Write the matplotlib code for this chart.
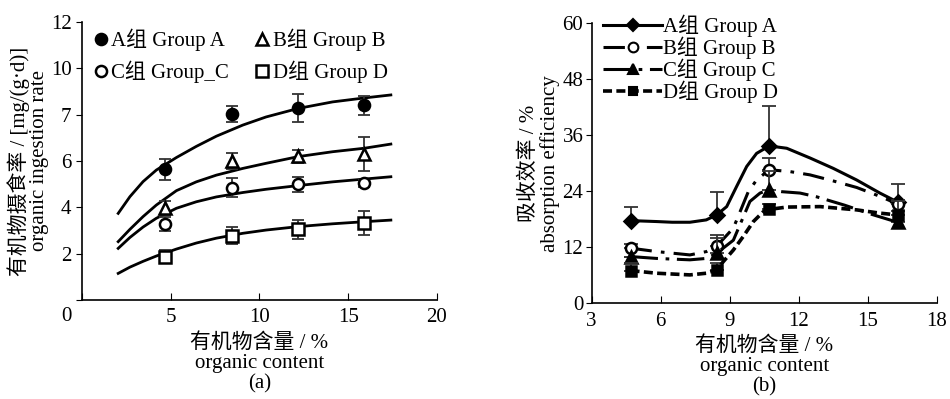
import matplotlib
matplotlib.use('Agg')
import matplotlib.pyplot as plt
from matplotlib.lines import Line2D

plt.rcParams['font.family'] = ['Liberation Serif', 'Noto Sans CJK SC']
plt.rcParams['font.size'] = 15

# ---- panel (a): ingestion rate ----
groups = ['A组 Group A', 'B组 Group B', 'C组 Group_C', 'D组 Group D']
xa = [4.7, 8.43, 12.19, 15.9]
ya_A = [5.65, 8.03, 8.27, 8.40]
ya_B = [3.96, 5.99, 6.21, 6.30]
ya_C = [3.28, 4.85, 4.99, 5.03]
ya_D = [1.87, 2.78, 3.05, 3.34]
ea_A = [0.45, 0.36, 0.60, 0.42]
ea_B = [0.30, 0.34, 0.28, 0.72]
ea_C = [0.29, 0.40, 0.32, 0.15]
ea_D = [0.28, 0.37, 0.40, 0.52]

# fitted curves
fit_x = [2.04, 2.70, 3.44, 4.19, 5.32, 6.44, 7.57, 9.06, 10.37, 12.19, 14.12, 15.90, 17.40]
fit_A = [3.74, 4.46, 5.11, 5.61, 6.15, 6.63, 7.07, 7.55, 7.90, 8.27, 8.55, 8.72, 8.85]
fit_B = [2.52, 3.05, 3.60, 4.10, 4.72, 5.10, 5.39, 5.68, 5.90, 6.19, 6.40, 6.55, 6.73]
fit_C = [2.23, 2.70, 3.15, 3.53, 3.96, 4.24, 4.45, 4.64, 4.78, 4.94, 5.10, 5.22, 5.32]
fit_D = [1.15, 1.42, 1.67, 1.90, 2.20, 2.46, 2.67, 2.88, 3.02, 3.17, 3.29, 3.38, 3.45]

ytick_a = [0, 2, 4, 6, 8, 10, 12]
ytick_a_lbl = ['', '2', '4', '6', '7', '10', '12']

# ---- panel (b): absorption efficiency ----
labels_b = ['A组 Group A', 'B组 Group B', 'C组 Group C', 'D组 Group D']
xb = [4.69, 8.43, 10.72, 16.33]
yb_A = [17.7, 18.9, 33.7, 21.6]
yb_B = [11.8, 12.2, 28.6, 21.2]
yb_C = [10.0, 10.7, 24.3, 17.3]
yb_D = [7.0, 7.1, 20.1, 18.9]
eb_A = [2.9, 5.0, 8.6, 3.9]
eb_B = [0.8, 2.4, 2.6, 1.0]
eb_C = [0.0, 3.2, 4.0, 2.5]
eb_D = [1.6, 1.5, 1.2, 3.0]

curA_x = [4.69, 5.82, 6.50, 7.27, 7.98, 8.43, 8.87, 9.30, 9.74, 10.17, 10.72, 11.48, 12.50, 13.50, 14.52, 15.53, 16.33]
curA_y = [17.7, 17.5, 17.35, 17.35, 17.85, 18.9, 20.7, 25.0, 29.3, 32.1, 33.7, 33.2, 31.1, 28.9, 26.4, 23.6, 21.6]
curB_x = [4.69, 5.82, 7.27, 7.99, 8.43, 9.16, 9.81, 10.17, 10.72, 11.62, 12.49, 13.50, 14.52, 15.53, 16.33]
curB_y = [11.8, 11.07, 10.35, 11.07, 12.2, 16.1, 23.9, 26.4, 28.6, 28.2, 27.5, 26.2, 24.8, 22.9, 21.2]
curC_x = [4.69, 5.82, 7.27, 7.99, 8.43, 9.16, 9.88, 10.32, 10.72, 11.26, 12.06, 12.78, 14.00, 15.20, 16.33]
curC_y = [10.0, 9.6, 9.3, 9.6, 10.7, 13.5, 21.8, 23.6, 24.3, 23.9, 23.6, 22.8, 21.0, 19.0, 17.3]
curD_x = [4.69, 5.82, 7.27, 7.99, 8.43, 8.72, 9.16, 9.59, 10.03, 10.46, 10.72, 11.48, 12.93, 14.52, 15.53, 16.33]
curD_y = [7.0, 6.43, 6.07, 6.43, 7.1, 8.9, 11.4, 14.3, 17.5, 19.6, 20.1, 20.6, 20.7, 20.0, 19.3, 18.9]

fig = plt.figure(figsize=(9.5, 3.99), dpi=100)
ax1 = fig.add_axes([0.0863, 0.248, 0.3737, 0.697])
ax2 = fig.add_axes([0.6228, 0.240, 0.3632, 0.702])

# panel a
for fy in [fit_A, fit_B, fit_C, fit_D]:
    ax1.plot(fit_x, fy, color='black', lw=2, solid_joinstyle='round')

mk_a = [('o', 'black'), ('^', 'white'), ('o', 'white'), ('s', 'white')]
pts = []
for i, (yy, ee) in enumerate(zip([ya_A, ya_B, ya_C, ya_D], [ea_A, ea_B, ea_C, ea_D])):
    ax1.errorbar(xa, yy, yerr=ee, fmt='none', ecolor='#333333', elinewidth=1.3, capsize=4, capthick=1.3)
    m, fc = mk_a[i]
    p, = ax1.plot(xa, yy, ls='none', marker=m, ms=8, mfc=fc, mec='black', mew=1.8, label=groups[i])
    pts.append(p)

ax1.set_xlim(0, 20)
ax1.set_ylim(0, 12)
ax1.set_xticks([0, 5, 10, 15, 20])
ax1.set_xticklabels(['', '5', '10', '15', '20'])
ax1.set_yticks(ytick_a)
ax1.set_yticklabels(ytick_a_lbl)
ax1.text(-0.03, -0.025, '0', transform=ax1.transAxes, ha='right', va='top')
ax1.tick_params(axis='x', direction='in', length=5, pad=6)
ax1.tick_params(axis='y', direction='out', length=4)
for s in ['top', 'right']:
    ax1.spines[s].set_visible(False)
for s in ['left', 'bottom']:
    ax1.spines[s].set_linewidth(1.2)
# legend is filled column-wise, so order A, C | B, D gives rows A B / C D
order = [0, 2, 1, 3]
ax1.legend([pts[k] for k in order], [groups[k] for k in order], loc='upper left',
           bbox_to_anchor=(0.0, 1.02), ncol=2, frameon=False,
           handlelength=0.6, handletextpad=0.2, columnspacing=1.3, labelspacing=0.45,
           borderaxespad=0.2, fontsize=15)
ax1.set_ylabel('有机物摄食率 / [mg/(g·d)]\norganic ingestion rate', labelpad=1, linespacing=1.05)
ax1.set_xlabel('有机物含量 / %\norganic content\n(a)', linespacing=1.1)

# panel b
styles = [
    dict(ls='-', lw=2.2, marker='D', mfc='black', ms=7),
    dict(ls=(0, (7, 3, 1.2, 3)), lw=2.2, marker='o', mfc='white', ms=8),
    dict(ls=(0, (9, 2.5, 1.2, 2.5)), lw=2.2, marker='^', mfc='black', ms=8),
    dict(ls=(0, (2.5, 1.2)), lw=2.6, marker='s', mfc='black', ms=7),
]
curves = [(curA_x, curA_y), (curB_x, curB_y), (curC_x, curC_y), (curD_x, curD_y)]
handles = []
for i, ((cx, cy), yy, ee) in enumerate(zip(curves, [yb_A, yb_B, yb_C, yb_D],
                                           [eb_A, eb_B, eb_C, eb_D])):
    st = styles[i]
    ax2.errorbar(xb, yy, yerr=[[0] * len(ee), ee], fmt='none', ecolor='#333333',
                 elinewidth=1.3, capsize=5, capthick=1.3)
    ax2.plot(cx, cy, color='black', ls=st['ls'], lw=st['lw'], solid_joinstyle='round')
    ax2.plot(xb, yy, ls='none', marker=st['marker'], ms=st['ms'], mfc=st['mfc'], mec='black', mew=1.8)
    handles.append(Line2D([], [], color='black', ls=st['ls'], lw=st['lw'], marker=st['marker'],
                          ms=st['ms'] - 1, mfc=st['mfc'], mec='black', mew=1.5))

ax2.set_xlim(3, 18)
ax2.set_ylim(0, 60)
ax2.set_xticks([3, 6, 9, 12, 15, 18])
ax2.set_yticks([0, 12, 24, 36, 48, 60])
ax2.tick_params(axis='x', direction='in', length=5, pad=6)
ax2.tick_params(axis='y', direction='out', length=4, pad=2)
for s in ['top', 'right']:
    ax2.spines[s].set_visible(False)
for s in ['left', 'bottom']:
    ax2.spines[s].set_linewidth(1.2)
ax2.legend(handles, labels_b, loc='upper left', bbox_to_anchor=(0.01, 1.06), frameon=False,
           handlelength=2.8, handletextpad=0.05, labelspacing=-0.02, borderaxespad=0.0, fontsize=15)
ax2.set_ylabel('吸收效率 / %\nabsorption efficiency', labelpad=2, linespacing=1.05)
ax2.set_xlabel('有机物含量 / %\norganic content\n(b)', linespacing=1.1)

fig.savefig('out.png', dpi=100)
